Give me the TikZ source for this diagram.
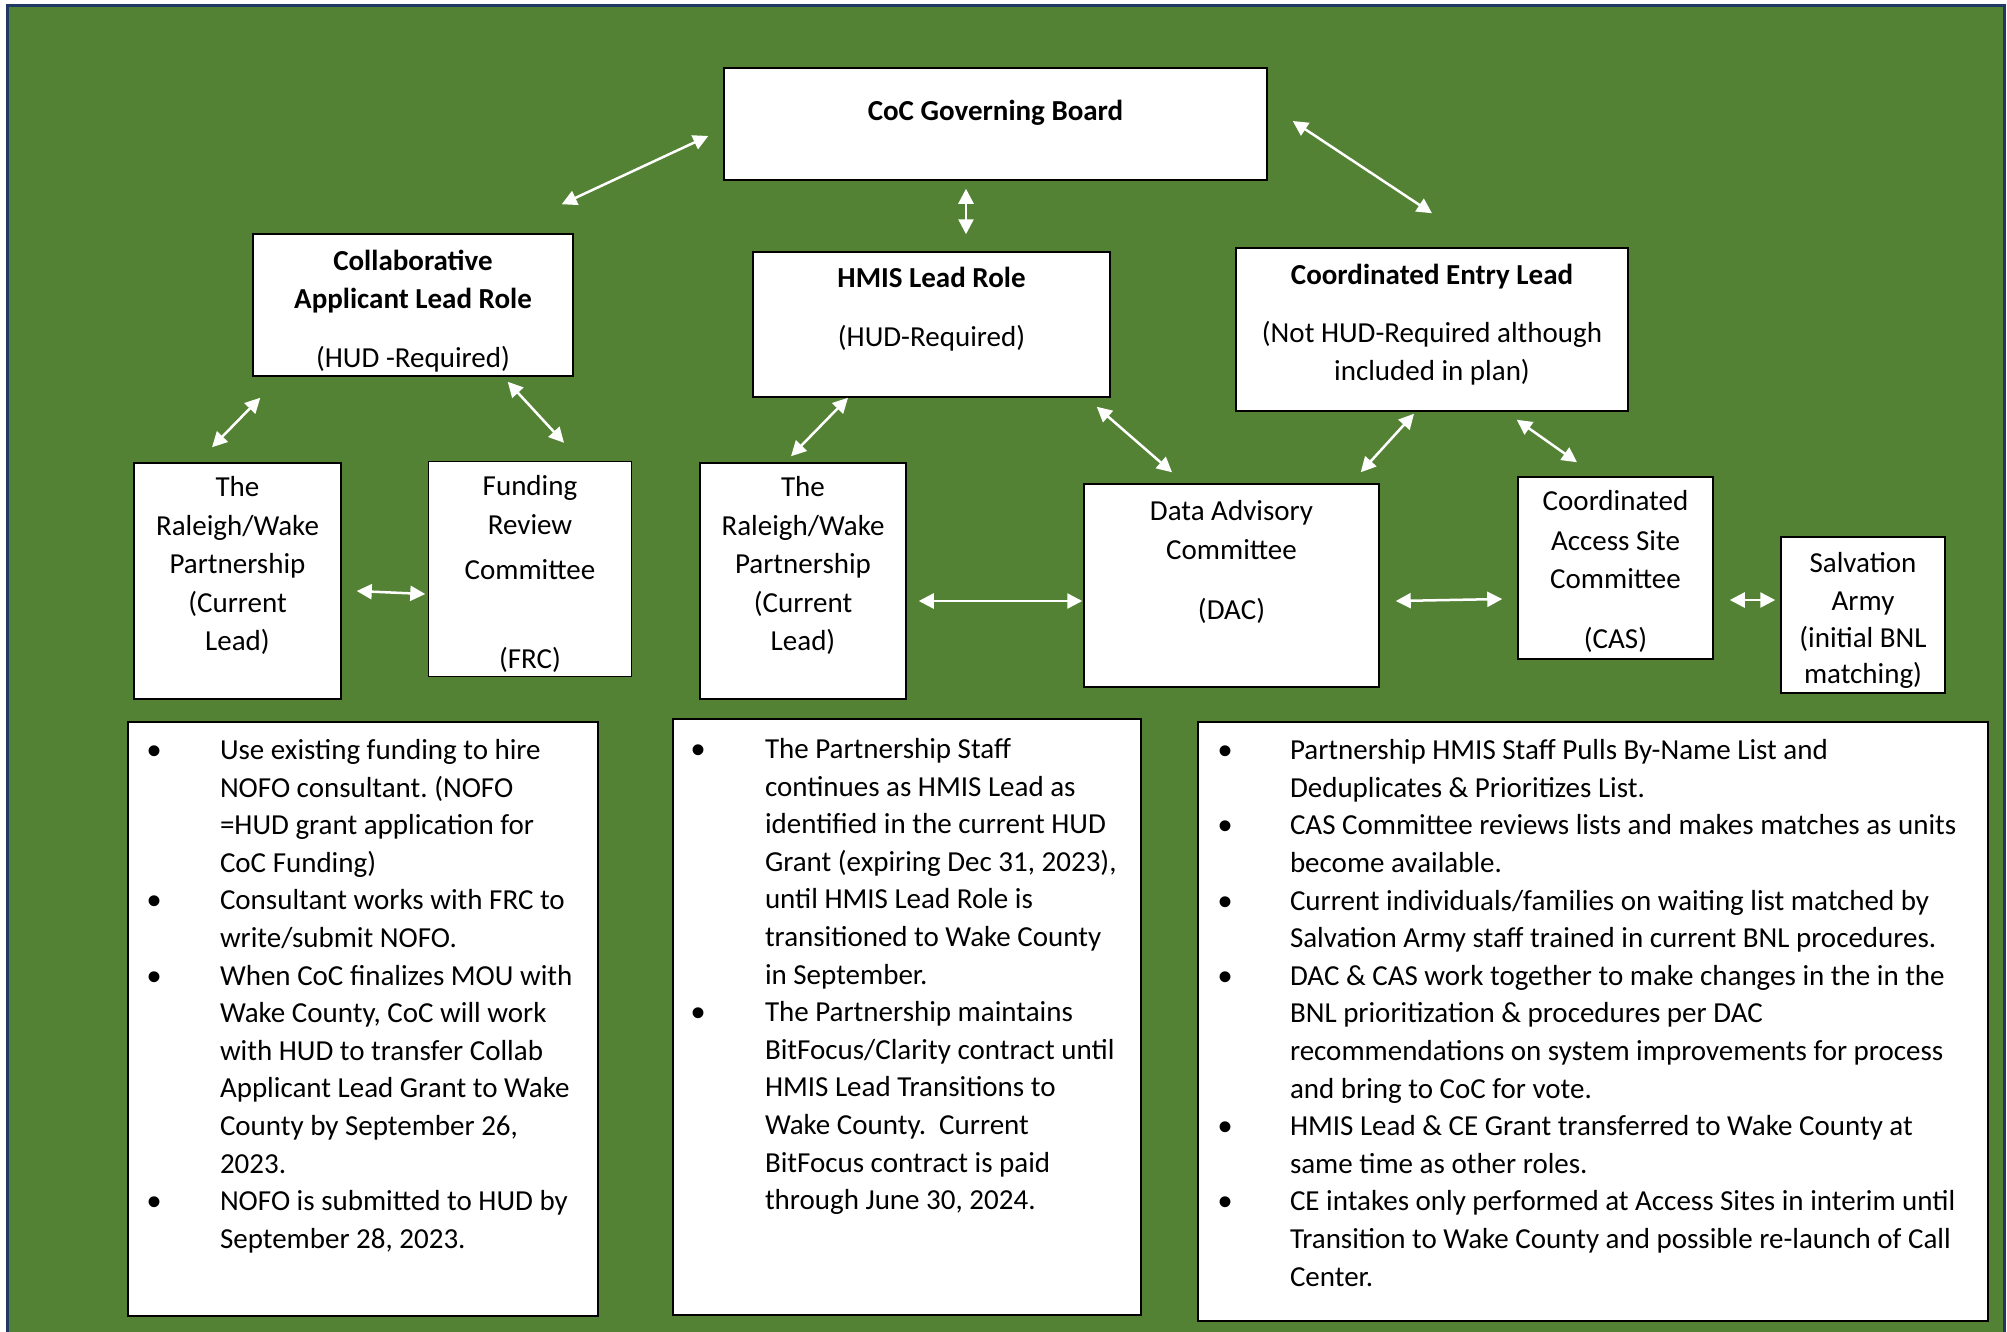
\documentclass[tikz,border=0pt]{standalone}
\usepackage{fontspec}
\setmainfont{Carlito}
\newfontfamily\bulletfont{Liberation Sans}
\usetikzlibrary{arrows.meta}
\definecolor{boardgreen}{RGB}{84,130,53}
\definecolor{framenavy}{RGB}{31,56,100}
\frenchspacing

\begin{document}
\begin{tikzpicture}[x=1pt,y=1pt]
				\tikzstyle{every node}+=[inner sep=0pt]
				\tikzstyle{box}=[draw=black, fill=white, line width=1.5pt, font=\fontsize{29}{38.5}\selectfont]
				\tikzstyle{notes}=[draw=black, fill=white, line width=1.5pt, font=\fontsize{29}{37.6}\selectfont]
				\tikzstyle{link}=[white, line width=2.5pt, >={Triangle[length=15pt,width=15pt]}, <->]
				\useasboundingbox (0,0) rectangle (2007,-1331);
				\fill [white] (0,0) rectangle (2007,-1331);
				\draw [framenavy, line width=3pt, fill=boardgreen] (7.5,-5.5) rectangle (2004.5,-1345);
				\node [box] (coc) at (995.5,-124) {\parbox[c][112pt][t]{543pt}{\centering\vspace*{25.8pt}\begin{tabular}{@{}c@{}}\textbf{CoC Governing Board}\end{tabular}}};
				\node [box] (collab) at (413,-305) {\parbox[c][142pt][t]{320pt}{\centering\vspace*{9.4pt}\begin{tabular}{@{}c@{}}\textbf{Collaborative}\\\textbf{Applicant Lead Role}\\[20pt](HUD -Required)\end{tabular}}};
				\node [box] (hmis) at (931.5,-324.5) {\parbox[c][145pt][t]{357pt}{\centering\vspace*{8.4pt}\begin{tabular}{@{}c@{}}\textbf{HMIS Lead Role}\\[21pt](HUD-Required)\end{tabular}}};
				\node [box] (ce) at (1432,-329.5) {\parbox[c][163pt][t]{392pt}{\centering\vspace*{10pt}\begin{tabular}{@{}c@{}}\textbf{Coordinated Entry Lead}\\[19pt](Not HUD-Required although\\included in plan)\end{tabular}}};
				\node [box] (rwl) at (237.5,-581) {\parbox[c][236pt][t]{207pt}{\centering\vspace*{7pt}\begin{tabular}{@{}c@{}}The\\Raleigh/Wake\\Partnership\\(Current\\Lead)\end{tabular}}};
				\node [box] (frc) at (530,-569) {\parbox[c][215pt][t]{203pt}{\centering\vspace*{6.7pt}\begin{tabular}{@{}c@{}}Funding\\[1pt]Review\\[6pt]Committee\\[50.5pt](FRC)\end{tabular}}};
				\node [box] (rwm) at (803,-581) {\parbox[c][236pt][t]{206pt}{\centering\vspace*{7pt}\begin{tabular}{@{}c@{}}The\\Raleigh/Wake\\Partnership\\(Current\\Lead)\end{tabular}}};
				\node [box] (dac) at (1231.5,-585.5) {\parbox[c][203pt][t]{295pt}{\centering\vspace*{10pt}\begin{tabular}{@{}c@{}}Data Advisory\\Committee\\[22pt](DAC)\end{tabular}}};
				\node [box] (cas) at (1615.5,-568) {\parbox[c][182pt][t]{195pt}{\centering\vspace*{6.7pt}\begin{tabular}{@{}c@{}}Coordinated\\[1pt]Access Site\\Committee\\[21.5pt](CAS)\end{tabular}}};
				\node [box] (salv) at (1863,-615) {\parbox[c][156pt][t]{164pt}{\centering\vspace*{8.7pt}\begin{tabular}{@{}c@{}}Salvation\\[-0.5pt]Army\\[-1.9pt](initial BNL\\[-1.8pt]matching)\end{tabular}}};
				\node [notes] (capnotes) at (363,-1019) {\parbox[c][594pt][t]{470pt}{\raggedright\vspace*{11.1pt}\begin{tabular}{@{\hspace{19pt}}p{73pt}@{}l@{}}
					\raisebox{-5pt}{\bulletfont\fontsize{40}{37.6}\selectfont •} & Use existing funding to hire\\
					& NOFO consultant. (NOFO\\
					& =HUD grant application for\\
					& CoC Funding)\\
					\raisebox{-5pt}{\bulletfont\fontsize{40}{37.6}\selectfont •} & Consultant works with FRC to\\
					& write/submit NOFO.\\
					\raisebox{-5pt}{\bulletfont\fontsize{40}{37.6}\selectfont •} & When CoC finalizes MOU with\\
					& Wake County, CoC will work\\
					& with HUD to transfer Collab\\
					& Applicant Lead Grant to Wake\\
					& County by September 26,\\
					& 2023.\\
					\raisebox{-5pt}{\bulletfont\fontsize{40}{37.6}\selectfont •} & NOFO is submitted to HUD by\\
					& September 28, 2023.
				\end{tabular}}};
				\node [notes] (hmisnotes) at (907,-1017) {\parbox[c][596pt][t]{468pt}{\raggedright\vspace*{13.1pt}\begin{tabular}{@{\hspace{18pt}}p{74pt}@{}l@{}}
					\raisebox{-5pt}{\bulletfont\fontsize{40}{37.6}\selectfont •} & The Partnership Staff\\
					& continues as HMIS Lead as\\
					& identified in the current HUD\\
					& Grant (expiring Dec 31, 2023),\\
					& until HMIS Lead Role is\\
					& transitioned to Wake County\\
					& in September.\\
					\raisebox{-5pt}{\bulletfont\fontsize{40}{37.6}\selectfont •} & The Partnership maintains\\
					& BitFocus/Clarity contract until\\
					& HMIS Lead Transitions to\\
					& Wake County.\ \ Current\\
					& BitFocus contract is paid\\
					& through June 30, 2024.
				\end{tabular}}};
				\node [notes] (cenotes) at (1593,-1021.5) {\parbox[c][599pt][t]{790pt}{\raggedright\vspace*{11.3pt}\begin{tabular}{@{\hspace{20.5pt}}p{71.5pt}@{}l@{}}
					\raisebox{-5pt}{\bulletfont\fontsize{40}{37.6}\selectfont •} & Partnership HMIS Staff Pulls By-Name List and\\
					& Deduplicates \& Prioritizes List.\\
					\raisebox{-5pt}{\bulletfont\fontsize{40}{37.6}\selectfont •} & CAS Committee reviews lists and makes matches as units\\
					& become available.\\
					\raisebox{-5pt}{\bulletfont\fontsize{40}{37.6}\selectfont •} & Current individuals/families on waiting list matched by\\
					& Salvation Army staff trained in current BNL procedures.\\
					\raisebox{-5pt}{\bulletfont\fontsize{40}{37.6}\selectfont •} & DAC \& CAS work together to make changes in the in the\\
					& BNL prioritization \& procedures per DAC\\
					& recommendations on system improvements for process\\
					& and bring to CoC for vote.\\
					\raisebox{-5pt}{\bulletfont\fontsize{40}{37.6}\selectfont •} & HMIS Lead \& CE Grant transferred to Wake County at\\
					& same time as other roles.\\
					\raisebox{-5pt}{\bulletfont\fontsize{40}{37.6}\selectfont •} & CE intakes only performed at Access Sites in interim until\\
					& Transition to Wake County and possible re-launch of Call\\
					& Center.
				\end{tabular}}};
				\draw [link] ([shift={(-15,-12)}]coc.west) -- ([shift={(-12,29)}]collab.north east);
				\draw [link] ([shift={(-29.5,-8)}]coc.south) -- ([shift={(34.5,17)}]hmis.north);
				\draw [link] ([shift={(25,3)}]coc.east) -- ([shift={(0,34)}]ce.north);
				\draw [link] ([shift={(8,-21)}]collab.south west) -- ([shift={(-25.5,15)}]rwl.north);
				\draw [link] ([shift={(-66,-5)}]collab.south east) -- ([shift={(34,18)}]frc.north);
				\draw [link] ([shift={(-83.5,0)}]hmis.south) -- ([shift={(-12,6)}]rwm.north);
				\draw [link] ([shift={(-14,-9)}]hmis.south east) -- ([shift={(-59.5,11)}]dac.north);
				\draw [link] ([shift={(-18,-2)}]ce.south) -- ([shift={(-19,11)}]dac.north east);
				\draw [link] ([shift={(-112,-8)}]ce.south east) -- ([shift={(-38.5,14)}]cas.north);
				\draw [link] ([shift={(15,-10)}]rwl.east) -- ([shift={(-2.5,-25)}]frc.west);
				\draw [link] ([shift={(12,-20)}]rwm.east) -- ([shift={(-1,-15.5)}]dac.west);
				\draw [link] ([shift={(16,-15.5)}]dac.east) -- ([shift={(-15,-31)}]cas.west);
				\draw [link] ([shift={(16,-32)}]cas.east) -- ([shift={(-5,15)}]salv.west);
\end{tikzpicture}
\end{document}
